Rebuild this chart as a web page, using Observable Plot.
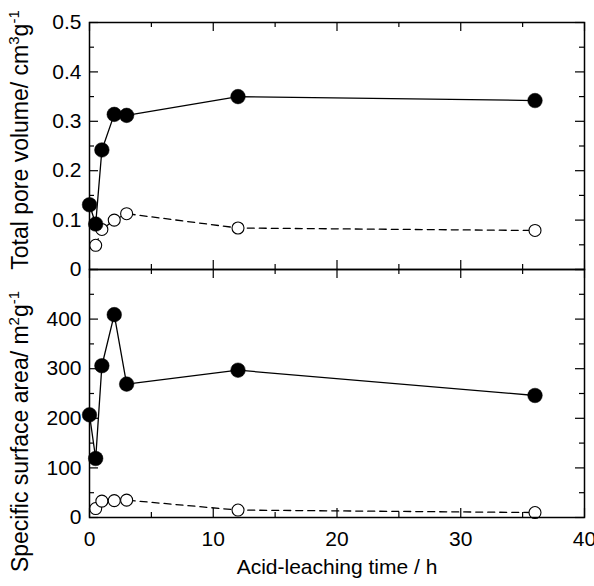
<!DOCTYPE html>
<html><head><meta charset="utf-8">
<script src="https://cdn.jsdelivr.net/npm/d3@7"></script>
<script src="https://cdn.jsdelivr.net/npm/@observablehq/plot@0.6"></script>
<style>
body{margin:0;background:#fff;}
#chart{width:594px;}
#chart svg{display:block;}
</style></head><body><div id="chart"></div>
<script>
// ---- data ----
const timesFilled = [0, 0.5, 1, 2, 3, 12, 36];
const poreFilled  = [0.131, 0.092, 0.242, 0.314, 0.312, 0.350, 0.342];
const areaFilled  = [207, 119, 306, 409, 269, 297, 246];
const timesOpen   = [0.5, 1, 2, 3, 12, 36];
const poreOpen    = [0.049, 0.081, 0.100, 0.113, 0.084, 0.079];
const areaOpen    = [18, 33, 34, 35, 15, 10];

const xMajor = [0, 10, 20, 30, 40];
const xMinor = [5, 15, 25, 35];
const poreMajor = [0, 0.1, 0.2, 0.3, 0.4, 0.5];
const poreMinor = [0.05, 0.15, 0.25, 0.35, 0.45];
const areaMajor = [0, 100, 200, 300, 400];
const areaMinor = [50, 150, 250, 350, 450];
const xTitle = "Acid-leaching time / h";
const poreTitle = [["Total pore volume/ cm", false], ["3", true], ["g", false], ["-1", true]];
const areaTitle = [["Specific surface area/ m", false], ["2", true], ["g", false], ["-1", true]];

const filledPore = timesFilled.map((t, i) => ({t, v: poreFilled[i]}));
const openPore = timesOpen.map((t, i) => ({t, v: poreOpen[i]}));
const filledArea = timesFilled.map((t, i) => ({t, v: areaFilled[i]}));
const openArea = timesOpen.map((t, i) => ({t, v: areaOpen[i]}));

const W = 594, ML = 89, MR = 10;
const FONT = "Liberation Sans, Arial, Helvetica, sans-serif";

function panel({height, marginTop, marginBottom, yDomain, yMajor, yMinor, yLabels, filled, open, title, titleDy, bottomAxis}) {
  const innerW = W - ML - MR;
  const innerH = height - marginTop - marginBottom;
  const maj = 9, mnr = 5;
  const marks = [
    Plot.tickY(yMajor, {y: d => d, insetRight: innerW - maj, strokeWidth: 1.2}),
    Plot.tickY(yMinor, {y: d => d, insetRight: innerW - mnr, strokeWidth: 1.2}),
    Plot.tickY(yMajor, {y: d => d, insetLeft: innerW - maj, strokeWidth: 1.2}),
    Plot.tickY(yMinor, {y: d => d, insetLeft: innerW - mnr, strokeWidth: 1.2}),
    Plot.tickX(xMajor, {x: d => d, insetBottom: innerH - maj, strokeWidth: 1.2}),
    Plot.tickX(xMinor, {x: d => d, insetBottom: innerH - mnr, strokeWidth: 1.2}),
    Plot.tickX(xMajor, {x: d => d, insetTop: innerH - maj, strokeWidth: 1.2}),
    Plot.tickX(xMinor, {x: d => d, insetTop: innerH - mnr, strokeWidth: 1.2}),
    Plot.line(open, {x: "t", y: "v", stroke: "black", strokeWidth: 1.3, strokeDasharray: "7,5"}),
    Plot.line(filled, {x: "t", y: "v", stroke: "black", strokeWidth: 1.3}),
    Plot.dot(open, {x: "t", y: "v", r: 6, fill: "white", stroke: "black", strokeWidth: 1.1}),
    Plot.dot(filled, {x: "t", y: "v", r: 7.3, fill: "black", stroke: "black", strokeWidth: 0.5}),
    Plot.frame({stroke: "black", strokeWidth: 1.5}),
    Plot.axisY(yLabels, {tickSize: 0, tickPadding: 8, fontSize: 21, label: null, tickFormat: d => String(d)}),
    Plot.text(["t"], {frameAnchor: "left", rotate: -90, dx: -78, dy: titleDy, fontSize: 23,
      textAnchor: "middle", lineAnchor: "top", text: d => d, className: "ytitle"})
  ];
  if (bottomAxis) {
    marks.push(Plot.axisX(xMajor, {tickSize: 0, tickPadding: 14, fontSize: 21,
      label: xTitle, labelAnchor: "center", labelOffset: 56, labelArrow: "none"}));
  }
  const svg = Plot.plot({
    width: W, height, marginLeft: ML, marginRight: MR, marginTop, marginBottom,
    style: {fontFamily: FONT, color: "black", background: "transparent", overflow: "visible"},
    x: {domain: [0, 40], axis: bottomAxis ? undefined : null},
    y: {domain: yDomain},
    marks
  });
  const t = d3.select(svg).select("g.ytitle text");
  t.text(null);
  let shifted = false;
  for (const [s, sup] of title) {
    const ts = t.append("tspan").text(s);
    if (sup) { ts.attr("font-size", 15).attr("dy", shifted ? 0 : -9); shifted = true; }
    else if (shifted) { ts.attr("dy", 9); shifted = false; }
  }
  return svg;
}

const topPanel = panel({height: 270, marginTop: 22, marginBottom: 1, yDomain: [0, 0.5],
  yMajor: poreMajor, yMinor: poreMinor, yLabels: poreMajor,
  filled: filledPore, open: openPore, title: poreTitle, titleDy: -6, bottomAxis: false});
const bottomPanel = panel({height: 317, marginTop: 0, marginBottom: 69, yDomain: [0, 500],
  yMajor: areaMajor.concat([500]), yMinor: areaMinor, yLabels: areaMajor,
  filled: filledArea, open: openArea, title: areaTitle, titleDy: 38, bottomAxis: true});
bottomPanel.style.marginTop = "-1px";
const chart = document.getElementById("chart");
chart.appendChild(topPanel);
chart.appendChild(bottomPanel);
</script></body></html>
